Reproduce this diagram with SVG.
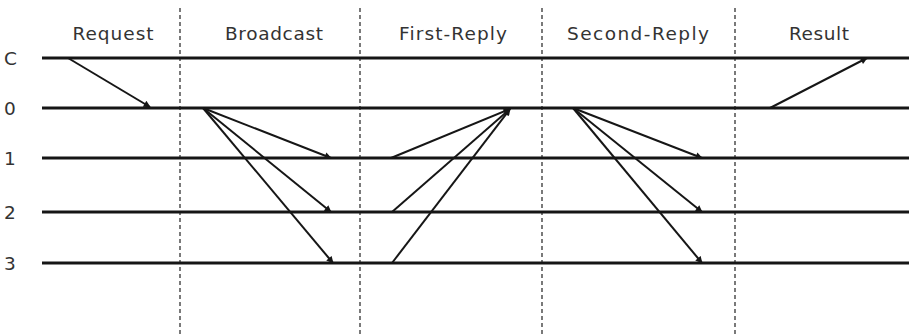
<svg xmlns="http://www.w3.org/2000/svg" width="909" height="335" viewBox="0 0 909 335">
  <style>
    .lane { stroke: #161616; stroke-width: 3; fill: none; }
    .phase-sep { stroke: #333; stroke-width: 1.3; stroke-dasharray: 4 3; fill: none; }
    .msg { stroke: #161616; stroke-width: 2; fill: none; marker-end: url(#head); }
    .lbl { font-family: "DejaVu Sans", "Liberation Sans", sans-serif; font-size: 18.5px; fill: #333; }
  </style>
  <defs>
    <marker id="head" viewBox="0 0 10 10" refX="9" refY="5" markerWidth="8" markerHeight="7" markerUnits="userSpaceOnUse" orient="auto">
      <path d="M0,0 L10,5 L0,10 z" fill="#161616"/>
    </marker>
  </defs>
  <rect width="909" height="335" fill="#fff"/>

  <!-- phase separators -->
  <g id="separators">
    <line class="phase-sep" x1="180" y1="8" x2="180" y2="335"/>
    <line class="phase-sep" x1="360" y1="8" x2="360" y2="335"/>
    <line class="phase-sep" x1="542" y1="8" x2="542" y2="335"/>
    <line class="phase-sep" x1="735" y1="8" x2="735" y2="335"/>
  </g>

  <!-- phase titles -->
  <g id="phase-request"><text class="lbl" x="113" y="40" text-anchor="middle" textLength="81" lengthAdjust="spacing">Request</text></g>
  <g id="phase-broadcast"><text class="lbl" x="274" y="40" text-anchor="middle" textLength="98" lengthAdjust="spacing">Broadcast</text></g>
  <g id="phase-first-reply"><text class="lbl" x="453" y="40" text-anchor="middle" textLength="108" lengthAdjust="spacing">First-Reply</text></g>
  <g id="phase-second-reply"><text class="lbl" x="638" y="40" text-anchor="middle" textLength="142" lengthAdjust="spacing">Second-Reply</text></g>
  <g id="phase-result"><text class="lbl" x="819" y="40" text-anchor="middle" textLength="60" lengthAdjust="spacing">Result</text></g>

  <!-- lanes: client C and replicas 0..3 -->
  <g id="lane-C">
    <text class="lbl" x="4" y="65">C</text>
    <line class="lane" x1="42" y1="58" x2="909" y2="58"/>
  </g>
  <g id="lane-0">
    <text class="lbl" x="4" y="115">0</text>
    <line class="lane" x1="42" y1="108" x2="909" y2="108"/>
  </g>
  <g id="lane-1">
    <text class="lbl" x="4" y="165">1</text>
    <line class="lane" x1="42" y1="158" x2="909" y2="158"/>
  </g>
  <g id="lane-2">
    <text class="lbl" x="4" y="219">2</text>
    <line class="lane" x1="42" y1="212" x2="909" y2="212"/>
  </g>
  <g id="lane-3">
    <text class="lbl" x="4" y="270">3</text>
    <line class="lane" x1="42" y1="263" x2="909" y2="263"/>
  </g>

  <!-- messages -->
  <g id="connectors">
    <line class="msg" x1="68" y1="58" x2="150" y2="107"/>

    <line class="msg" x1="203" y1="108" x2="331" y2="158"/>
    <line class="msg" x1="203" y1="108" x2="331" y2="212"/>
    <line class="msg" x1="203" y1="108" x2="333" y2="263"/>

    <line class="msg" x1="391" y1="158" x2="510" y2="109"/>
    <line class="msg" x1="392" y1="212" x2="510" y2="109"/>
    <line class="msg" x1="392" y1="263" x2="510" y2="109"/>

    <line class="msg" x1="573" y1="108" x2="702" y2="158"/>
    <line class="msg" x1="573" y1="108" x2="702" y2="212"/>
    <line class="msg" x1="573" y1="108" x2="702" y2="263"/>

    <line class="msg" x1="770" y1="108" x2="867" y2="58"/>
  </g>
</svg>
